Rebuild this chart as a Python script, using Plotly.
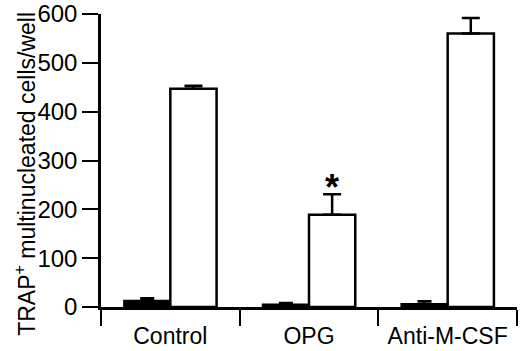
import plotly.graph_objects as go

categories = ["Control", "OPG", "Anti-M-CSF"]
black_vals = [13, 5, 6]
black_err = [5, 3, 6]
white_vals = [447, 189, 560]
white_err = [6, 42, 32]
y_ticks = [0, 100, 200, 300, 400, 500, 600]
y_title = "TRAP<sup>+</sup> multinucleated cells/well"

fig = go.Figure()
fig.add_trace(go.Bar(
    x=categories, y=black_vals,
    marker=dict(color="black", line=dict(color="black", width=2)),
    error_y=dict(type="data", symmetric=False, array=black_err, arrayminus=[0, 0, 0],
                 color="black", thickness=2.5, width=7),
    showlegend=False,
))
fig.add_trace(go.Bar(
    x=categories, y=white_vals,
    marker=dict(color="white", line=dict(color="black", width=2.5)),
    error_y=dict(type="data", symmetric=False, array=white_err, arrayminus=[0, 0, 0],
                 color="black", thickness=2.5, width=9),
    showlegend=False,
))

fig.add_annotation(
    x="OPG", y=white_vals[1] + white_err[1], xref="x", yref="y",
    text="<b>*</b>", showarrow=False, xshift=23, yanchor="bottom", yshift=-16,
    font=dict(family="Liberation Sans, Arial", size=36, color="black"),
)
fig.add_annotation(
    x=-0.183, y=0.454, xref="paper", yref="paper", text=y_title,
    textangle=-90, showarrow=False, xanchor="center", yanchor="middle",
    font=dict(family="Liberation Sans, Arial", size=23, color="black"),
)

fig.update_layout(
    width=520, height=351,
    margin=dict(l=101, r=3, t=14, b=44),
    paper_bgcolor="white", plot_bgcolor="white",
    barmode="group", bargap=0.333, bargroupgap=0,
    font=dict(family="Liberation Sans, Arial", size=23, color="black"),
)
fig.update_xaxes(
    type="category", range=[-0.5, 2.5], tickson="boundaries", automargin=False,
    ticks="outside", ticklen=16, tickwidth=2, tickcolor="black",
    showline=True, linewidth=2.5, linecolor="black", showgrid=False,
    tickfont=dict(size=23), zeroline=False, ticklabelstandoff=7,
)
fig.update_yaxes(
    range=[0, 600], tickvals=y_ticks, ticktext=[str(v) for v in y_ticks], automargin=False,
    ticks="outside", ticklen=16, tickwidth=2, tickcolor="black",
    showline=True, linewidth=2.5, linecolor="black", showgrid=False, zeroline=False,
    tickfont=dict(size=24),
)

fig.write_html("out.html", config={"displayModeBar": False},
               post_script="document.body.style.margin='0';")
